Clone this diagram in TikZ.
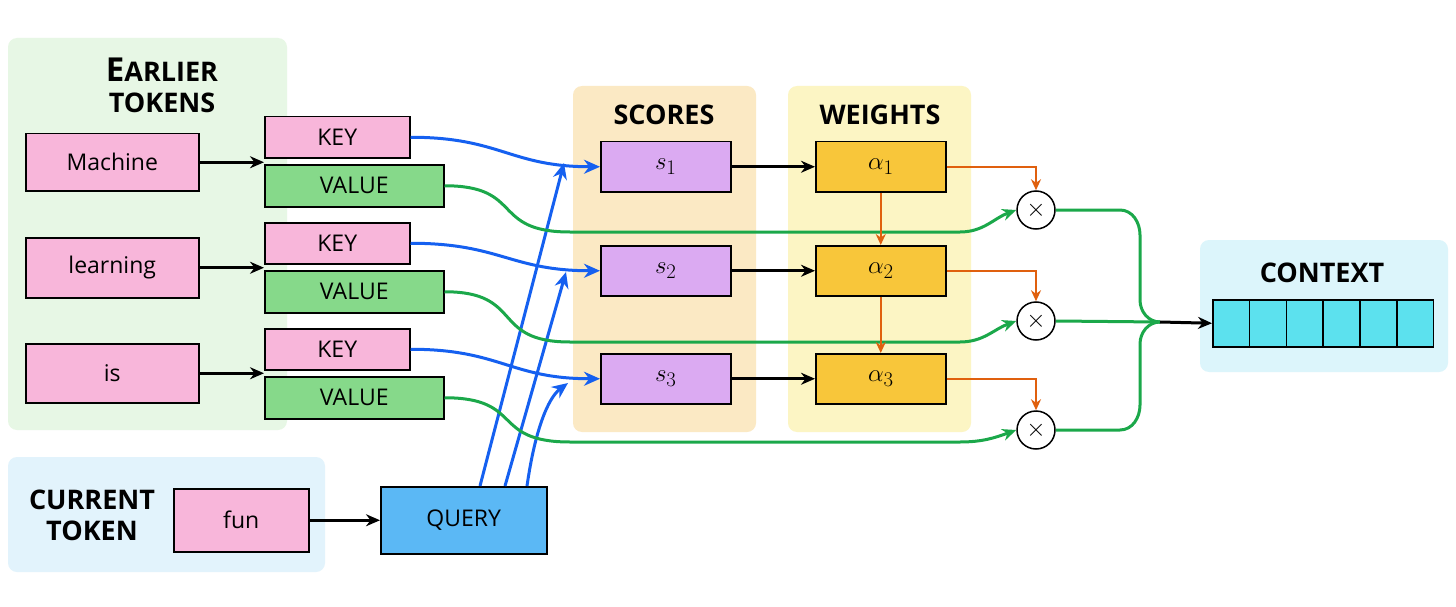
\documentclass[tikz,border=0pt]{standalone}
\usepackage{fontspec}
\setmainfont{Open Sans}
\usetikzlibrary{arrows.meta}
\definecolor{pinkf}{HTML}{F8B6DA}
\definecolor{greenf}{HTML}{86D98A}
\definecolor{violf}{HTML}{DBAAF2}
\definecolor{goldf}{HTML}{F8C63A}
\definecolor{blueq}{HTML}{5BB8F5}
\definecolor{cyanf}{HTML}{5CE1EE}
\definecolor{bluel}{HTML}{1560F0}
\definecolor{greenl}{HTML}{1BA84A}
\definecolor{orangel}{HTML}{E0600E}
\tikzset{
  panel/.style={rounded corners=9pt, draw=none},
  bx/.style={draw=black, line width=1.5pt, anchor=north west, inner sep=0pt, font=\fontsize{23}{26}\selectfont},
  ttl/.style={font=\bfseries\fontsize{27}{31}\selectfont, align=center},
  blk/.style={-{Stealth[length=14pt,width=12pt]}, line width=3pt},
  bl/.style={bluel, line width=3pt, -{Stealth[length=16pt,width=14pt]}},
  gl/.style={greenl, line width=3pt},
  ol/.style={orangel, line width=2.5pt, -{Stealth[length=11pt,width=10pt]}},
  mul/.style={circle, draw=black, line width=1.5pt, fill=white, minimum size=38pt, inner sep=0pt, font=\fontsize{24}{24}\selectfont}
}
\begin{document}
\begin{tikzpicture}[x=1pt,y=-1pt]
\useasboundingbox (0,0) rectangle (1456,607);
\fill[white] (0,0) rectangle (1456,607);
% panels
\fill[panel, fill={rgb,255:red,231;green,247;blue,229}] (8,38) rectangle (287,430);
\fill[panel, fill={rgb,255:red,226;green,243;blue,252}] (8,457) rectangle (325,572);
\fill[panel, fill={rgb,255:red,251;green,233;blue,196}] (573,86) rectangle (756,432);
\fill[panel, fill={rgb,255:red,252;green,245;blue,196}] (788,86) rectangle (971,432);
\fill[panel, fill={rgb,255:red,220;green,245;blue,251}] (1200,240) rectangle (1448,372);
\node[ttl] (t1) at (162,85) {{\fontsize{33}{33}\selectfont E}ARLIER\\TOKENS};
\node[ttl] (t2) at (92,515) {CURRENT\\TOKEN};
\node[ttl] (t3) at (664,115) {SCORES};
\node[ttl] (t4) at (880,115) {WEIGHTS};
\node[ttl] (t5) at (1322,273) {CONTEXT};
% tokens
\node[bx, fill=pinkf, minimum width=173pt, minimum height=57pt] (m) at (25,133) {Machine};
\node[bx, fill=pinkf, minimum width=173pt, minimum height=60pt] (l) at (25,237) {learning};
\node[bx, fill=pinkf, minimum width=173pt, minimum height=59pt] (i) at (25,343) {is};
\foreach \n/\y in {1/116,2/222,3/328}{
  \node[bx, fill=pinkf, minimum width=145pt, minimum height=41pt] (k\n) at (264,\y) {KEY};
  \node[bx, fill=greenf, minimum width=179pt, minimum height=42pt] (v\n) at (264,\y+48) {VALUE};
}
\node[bx, fill=pinkf, minimum width=135pt, minimum height=63pt] (f) at (173,488) {fun};
\node[bx, fill=blueq, minimum width=166pt, minimum height=67pt] (q) at (380,486) {QUERY};
\foreach \n/\y in {1/141,2/245,3/353}{
  \node[bx, fill=violf, minimum width=130pt, minimum height=50pt] (s\n) at (600,\y) {\fontsize{30}{30}\selectfont$s_{\n}$};
  \node[bx, fill=goldf, minimum width=130pt, minimum height=50pt] (a\n) at (815,\y) {\fontsize{30}{30}\selectfont$\alpha_{\n}$};
  \draw[blk] (s\n) -- (a\n);
}
\node[mul] (x1) at (1036,210) {$\times$};
\node[mul] (x2) at (1036,321) {$\times$};
\node[mul] (x3) at (1036,430) {$\times$};
% context cells
\foreach \j in {0,...,5}{
  \node[bx, fill=cyanf, minimum width=36.8pt, minimum height=47pt] (c\j) at (1212+\j*36.8,299) {};
}
\draw[blk] (m) -- (m.east -| k1.west);
\draw[blk] (l) -- (l.east -| k2.west);
\draw[blk] (i) -- (i.east -| k3.west);
\draw[blk] (f) -- (q);
% key -> score
\foreach \n in {1,2,3}{
  \draw[bl] (k\n.east) .. controls +(90,0) and +(-90,0) .. (s\n.west);
}
% query -> scores
\coordinate (qe1) at (564,163);
\coordinate (qe2) at (566,272);
\coordinate (qe3) at (568,383);
\draw[bl] (480,486) -- (qe1);
\draw[bl] (505,486) -- (qe2);
\draw[bl] (527,486) .. controls (535,430) and (548,398) .. (qe3);
% values -> multipliers
\foreach \n/\yy in {1/232,2/342,3/442}{
  \draw[gl, -{Stealth[length=14pt,width=12pt]}] (v\n.east) .. controls +(80,0) and +(-80,0) .. (570,\yy) -- (960,\yy) to[out=0,in=200] (x\n.west);
}
% weights -> multipliers
\foreach \n in {1,2,3}{
  \draw[ol] (a\n.east) -- (a\n.east -| x\n) -- (x\n.north);
}
\draw[ol] (a1) -- (a2);
\draw[ol] (a2) -- (a3);
% multipliers -> context
\coordinate (mg) at (1160,322);
\draw[gl] (x1.east) -- (1120,210) to[out=0,in=90] (1140,235) -- (1140,300) to[out=-90,in=180] (mg);
\draw[gl] (x3.east) -- (1120,430) to[out=0,in=-90] (1140,405) -- (1140,344) to[out=90,in=180] (mg);
\draw[gl] (x2.east) -- (mg);
\draw[blk] (mg) -- (c0.west);
\end{tikzpicture}
\end{document}
